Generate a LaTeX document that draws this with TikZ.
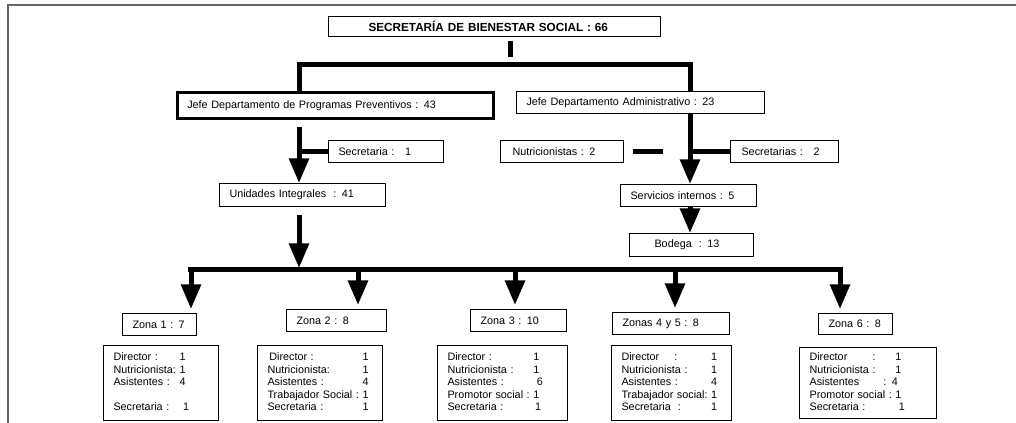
\documentclass[tikz,border=0pt]{standalone}
\usepackage{fontspec}
\setmainfont{Liberation Sans}
\usetikzlibrary{arrows.meta,positioning}

\begin{document}
\begin{tikzpicture}[x=0.75pt,y=-0.75pt,
  box/.style={draw,line width=0.8pt,anchor=north west,align=left,inner ysep=0pt,inner xsep=7.5pt,
    minimum height=16.5pt,font=\fontsize{8.1}{9.4}\selectfont},
  conn/.style={line width=3.75pt},
  arr/.style={line width=3.75pt,-{Triangle[width=14.5pt,length=18.5pt]}},
  frame/.style={gray!80!black,line width=1.1pt}]
  \useasboundingbox (0,0) rectangle (1016,423);
  \draw[frame] (8,423) -- (8,5) -- (1016,5);

  % direccion
  \node[box,text width=189pt,inner xsep=30pt,minimum height=15pt,
    font=\fontsize{8.8}{9.4}\selectfont\bfseries] (sec) at (328,16) {SECRETARÍA DE BIENESTAR SOCIAL : 66};
  \node[box,line width=2pt,text width=222pt,minimum height=19.5pt] (prev) at (176,91) {Jefe Departamento de Programas Preventivos : 43};
  \node[box,text width=171pt] (admin) at (516,91) {Jefe Departamento Administrativo : 23};

  % rama preventiva
  \node[box,text width=71.25pt] (sec1) at (328,140) {Secretaria :\ \ \ 1};
  \node[box,text width=109.5pt,minimum height=17.25pt] (unid) at (219,183) {Unidades Integrales\ \ : 41};

  % rama administrativa
  \node[box,text width=74.25pt,inner xsep=9pt] (nutri) at (500,140) {Nutricionistas : 2};
  \node[box,text width=64.5pt,inner xsep=8.25pt] (secs) at (730,140) {Secretarias :\ \ \ 2};
  \node[box,text width=87pt] (serv) at (620,184) {Servicios internos : 5};
  \node[box,text width=55.5pt,inner xsep=18.75pt,minimum height=17.25pt] (bodega) at (629,233) {Bodega\ \ : 13};

  % zonas
  \node[box,text width=40.5pt] (z1) at (122,313) {Zona 1 : 7};
  \node[box,text width=60pt] (z2) at (286,309) {Zona 2 : 8};
  \node[box,text width=57pt] (z3) at (470,309) {Zona 3 : 10};
  \node[box,text width=72.75pt] (z45) at (612,312) {Zonas 4 y 5 : 8};
  \node[box,text width=40.5pt,minimum height=15.75pt] (z6) at (818,313) {Zona 6 : 8};

  \node[box,text width=71.25pt,minimum height=56.25pt] (d1) at (103,345) {%
    \begin{tabular}{@{}l@{\ }l@{}}
    Director : & 1\\ Nutricionista: & 1\\ Asistentes : & 4\\ & \\ Secretaria : & \ 1
    \end{tabular}};
  \node[box,text width=78.75pt,minimum height=56.25pt] (d2) at (257,345) {%
    \begin{tabular}{@{}l@{\ }l@{}}
    \,Director : & 1\\ Nutricionista: & 1\\ Asistentes : & 4\\ Trabajador Social : & 1\\ Secretaria : & 1
    \end{tabular}};
  \node[box,text width=82.5pt,minimum height=56.25pt] (d3) at (437,345) {%
    \begin{tabular}{@{}l@{\ }l@{}}
    Director : & 1\\ Nutricionista : & 1\\ Asistentes : & \ 6\\ Promotor social : & 1\\ Secretaria : & \,1
    \end{tabular}};
  \node[box,text width=75pt,minimum height=56.25pt] (d4) at (611,345) {%
    \begin{tabular}{@{}l@{\ }l@{}}
    Director\hspace{1.4em}: & 1\\ Nutricionista : & 1\\ Asistentes : & 4\\ Trabajador social: & 1\\ Secretaria\ \ : & 1
    \end{tabular}};
  \node[box,text width=87.75pt,minimum height=53.25pt] (d6) at (799,347) {%
    \begin{tabular}{@{}l@{\ }l@{}}
    \rlap{Director}\hphantom{Nutricionista }: & 1\\ Nutricionista : & 1\\
    \multicolumn{2}{@{}l@{}}{\rlap{Asistentes}\hphantom{Promotor social :}\llap{: }4}\\
    Promotor social : & 1\\ Secretaria : & \ 1
    \end{tabular}};

  % conectores superiores
  \coordinate (bt) at (510,41);
  \coordinate (bb) at (510,57);
  \draw[conn] (bt) -- (bb);
  \coordinate (hl) at (299,65);
  \coordinate (hr) at (690,65);
  \draw[conn] (prev.north -| hl) -- (hl) -- (hr) -- (admin.north -| hr);

  \coordinate (p1) at (299,127);
  \draw[arr] (p1) -- (p1 |- unid.north);
  \draw[conn] (p1 |- sec1.west) -- (sec1.west);

  \draw[arr] (admin.south -| hr) -- (hr |- serv.north);
  \draw[conn] (hr |- secs.west) -- (secs.west);
  \draw[conn] ([xshift=6.75pt]nutri.east) -- ([xshift=29pt]nutri.east);
  \draw[arr] (serv.south -| hr) -- (hr |- bodega.north);

  % barra de zonas
  \coordinate (busl) at (188,270);
  \coordinate (busr) at (843,270);
  \draw[conn] (busl) -- (busr);
  \coordinate (u1) at (299,215);
  \draw[arr,shorten >=1.5pt] (u1) -- (u1 |- busl);
  \foreach \x/\z in {191/z1,358/z2,515/z3,675/z45,840/z6}{
    \coordinate (b\z) at (\x,270);
    \draw[arr,shorten >=3pt] (b\z) -- (b\z |- \z.north);
  }
\end{tikzpicture}
\end{document}
